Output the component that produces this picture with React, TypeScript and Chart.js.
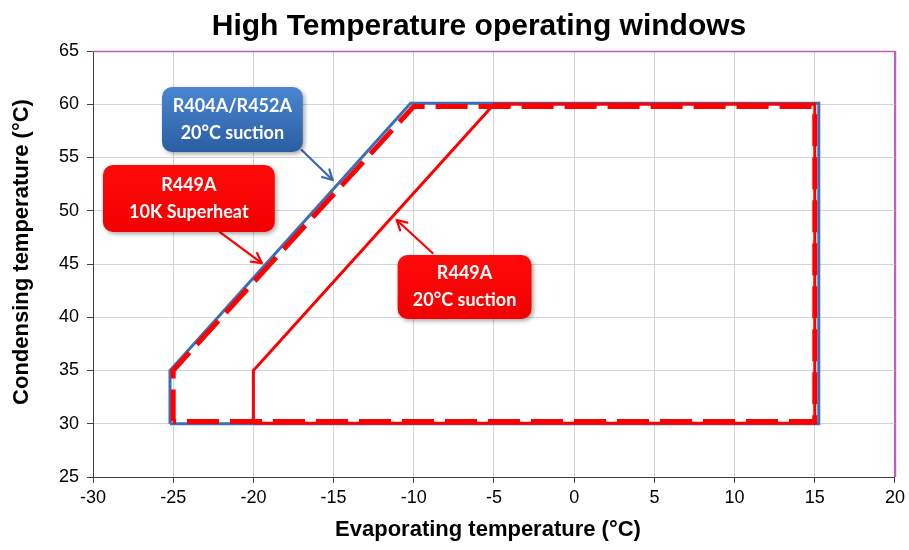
import React, { useEffect, useRef } from 'react';
import { Chart, registerables } from 'chart.js';

Chart.register(...registerables);

// ---- Data ----
const chartTitle = 'High Temperature operating windows';
const xAxisTitle = 'Evaporating temperature (°C)';
const yAxisTitle = 'Condensing temperature (°C)';

const xTicks = [-30, -25, -20, -15, -10, -5, 0, 5, 10, 15, 20];
const yTicks = [25, 30, 35, 40, 45, 50, 55, 60, 65];

// R404A/R452A 20°C suction (blue outline)
const blueX = [-25.2, -25.2, -10.2, 15.25, 15.25, -25.2];
const blueY = [30.0, 35, 60.1, 60.1, 30.0, 30.0];

// R449A 20°C suction (thin red outline)
const redThinX = [-20, -20, -5, 15, 15, -20];
const redThinY = [30.05, 35, 60, 60, 30.05, 30.05];

// R449A 10K superheat (thick red dashed outline)
const redDashX = [-25, -25, -10, 15, 15, -25];
const redDashY = [30.22, 35, 59.8, 59.8, 30.22, 30.22];

// Callout labels
const blueLabel = ['R404A/R452A', '20°C suction'];
const red10kLabel = ['R449A', '10K Superheat'];
const red20Label = ['R449A', '20°C suction'];

const toPoints = (xs: number[], ys: number[]) => xs.map((x, i) => ({ x, y: ys[i] }));

// ---- Styles ----
const PURPLE = '#c05cc0';
const GRID = '#d4d4d4';
const AXIS = '#404040';
const BLUE = '#3a6fb8';
const RED = '#ff0000';
const FONT = "'Liberation Sans', Arial, sans-serif";
const BOX_FONT = "Lato, 'Open Sans', sans-serif";

type Callout = {
  lines: string[];
  box: [number, number, number, number]; // xLeft, yTop, xRight, yBottom (data units)
  arrow: [number, number, number, number]; // from x,y -> to x,y (data units)
  kind: 'blue' | 'red';
};

const callouts: Callout[] = [
  { lines: blueLabel, box: [-25.7, 61.62, -16.92, 55.52], arrow: [-16.99, 55.7, -15.06, 52.89], kind: 'blue' },
  { lines: red10kLabel, box: [-29.38, 54.3, -18.67, 48.0], arrow: [-22.09, 48.0, -19.48, 45.09], kind: 'red' },
  { lines: red20Label, box: [-11.01, 45.85, -2.66, 39.84], arrow: [-8.83, 46.03, -11.07, 49.13], kind: 'red' },
];

function roundRectPath(ctx: CanvasRenderingContext2D, x: number, y: number, w: number, h: number, r: number) {
  ctx.beginPath();
  ctx.moveTo(x + r, y);
  ctx.arcTo(x + w, y, x + w, y + h, r);
  ctx.arcTo(x + w, y + h, x, y + h, r);
  ctx.arcTo(x, y + h, x, y, r);
  ctx.arcTo(x, y, x + w, y, r);
  ctx.closePath();
}

const decorPlugin = {
  id: 'decor',
  beforeDatasetsDraw(chart: any) {
    const ctx: CanvasRenderingContext2D = chart.ctx;
    const a = chart.chartArea;
    ctx.save();
    ctx.strokeStyle = PURPLE;
    ctx.lineWidth = 1.5;
    ctx.beginPath();
    ctx.moveTo(a.left, a.top + 0.5);
    ctx.lineTo(a.right + 0.5, a.top + 0.5);
    ctx.lineTo(a.right + 0.5, a.bottom);
    ctx.stroke();
    ctx.restore();
  },
  afterDatasetsDraw(chart: any) {
    const ctx: CanvasRenderingContext2D = chart.ctx;
    const xs = chart.scales.x;
    const ys = chart.scales.y;
    const px = (v: number) => xs.getPixelForValue(v);
    const py = (v: number) => ys.getPixelForValue(v);

    callouts.forEach((c) => {
      const color = c.kind === 'blue' ? '#3868ab' : RED;
      // arrow
      const x1 = px(c.arrow[0]);
      const y1 = py(c.arrow[1]);
      const x2 = px(c.arrow[2]);
      const y2 = py(c.arrow[3]);
      ctx.save();
      ctx.strokeStyle = color;
      ctx.lineWidth = 2.2;
      ctx.lineCap = 'round';
      ctx.lineJoin = 'round';
      ctx.beginPath();
      ctx.moveTo(x1, y1);
      ctx.lineTo(x2, y2);
      ctx.stroke();
      const ang = Math.atan2(y2 - y1, x2 - x1);
      const hl = 11;
      const spread = 0.5;
      ctx.beginPath();
      ctx.moveTo(x2 - hl * Math.cos(ang - spread), y2 - hl * Math.sin(ang - spread));
      ctx.lineTo(x2, y2);
      ctx.lineTo(x2 - hl * Math.cos(ang + spread), y2 - hl * Math.sin(ang + spread));
      ctx.stroke();
      ctx.restore();

      // box
      const bx = px(c.box[0]);
      const by = py(c.box[1]);
      const bw = px(c.box[2]) - bx;
      const bh = py(c.box[3]) - by;
      ctx.save();
      ctx.shadowColor = 'rgba(0,0,0,0.35)';
      ctx.shadowBlur = 4;
      ctx.shadowOffsetX = 2;
      ctx.shadowOffsetY = 2;
      const g = ctx.createLinearGradient(0, by, 0, by + bh);
      if (c.kind === 'blue') {
        g.addColorStop(0, '#4a86d2');
        g.addColorStop(1, '#2b5ea2');
      } else {
        g.addColorStop(0, '#ff0a0a');
        g.addColorStop(1, '#f20000');
      }
      ctx.fillStyle = g;
      roundRectPath(ctx, bx, by, bw, bh, 10);
      ctx.fill();
      ctx.restore();

      // text
      ctx.save();
      ctx.fillStyle = '#ffffff';
      ctx.font = `bold 18px ${BOX_FONT}`;
      ctx.textAlign = 'center';
      ctx.textBaseline = 'middle';
      const cx = bx + bw / 2;
      const cy = by + bh / 2;
      const lh = 27;
      c.lines.forEach((t, i) => {
        ctx.fillText(t, cx, cy + (i - (c.lines.length - 1) / 2) * lh);
      });
      ctx.restore();
    });
  },
  afterDraw(chart: any) {
    const ctx: CanvasRenderingContext2D = chart.ctx;
    const area = chart.chartArea;
    ctx.save();
    ctx.fillStyle = '#000';
    ctx.textAlign = 'center';
    ctx.textBaseline = 'middle';
    ctx.font = `bold 30px ${FONT}`;
    ctx.fillText(chartTitle, 479, 27);
    ctx.font = `bold 22px ${FONT}`;
    ctx.fillText(xAxisTitle, (area.left + area.right) / 2 - 6, 530);
    ctx.translate(22, (area.top + area.bottom) / 2 - 12);
    ctx.rotate(-Math.PI / 2);
    ctx.fillText(yAxisTitle, 0, 0);
    ctx.restore();
  },
};

export default function App() {
  const canvasRef = useRef<HTMLCanvasElement | null>(null);

  useEffect(() => {
    if (!canvasRef.current) return;
    const tickFont = { family: FONT, size: 18 };
    const chart = new Chart(canvasRef.current, {
      type: 'scatter',
      data: {
        datasets: [
          {
            label: 'R404A/R452A 20°C suction',
            data: toPoints(blueX, blueY),
            showLine: true,
            borderColor: BLUE,
            borderWidth: 3,
            pointRadius: 0,
            fill: false,
            borderJoinStyle: 'miter',
            order: 3,
          },
          {
            label: 'R449A 20°C suction',
            data: toPoints(redThinX, redThinY),
            showLine: true,
            borderColor: RED,
            borderWidth: 3,
            pointRadius: 0,
            fill: false,
            borderJoinStyle: 'miter',
            order: 2,
          },
          {
            label: 'R449A 10K Superheat',
            data: toPoints(redDashX, redDashY),
            showLine: true,
            borderColor: RED,
            borderWidth: 5,
            borderDash: [32, 11],
            pointRadius: 0,
            fill: false,
            borderJoinStyle: 'miter',
            order: 1,
          },
        ],
      },
      options: {
        responsive: false,
        animation: false,
        devicePixelRatio: 1,
        layout: { padding: { top: 51, right: 13, left: 0, bottom: 0 } },
        plugins: {
          legend: { display: false },
          title: { display: false },
          tooltip: { enabled: false },
        },
        scales: {
          x: {
            type: 'linear',
            min: xTicks[0],
            max: xTicks[xTicks.length - 1],
            afterBuildTicks: (s: any) => {
              s.ticks = xTicks.map((v) => ({ value: v }));
            },
            afterFit: (s: any) => {
              s.height = 73;
            },
            ticks: { font: tickFont, color: '#000', padding: 4, maxRotation: 0, autoSkip: false },
            grid: {
              color: (c: any) => (c.tick && c.tick.value === xTicks[xTicks.length - 1] ? PURPLE : GRID),
              tickColor: AXIS,
              tickLength: 6,
              lineWidth: 1,
            },
            border: { color: AXIS, width: 1 },
          },
          y: {
            type: 'linear',
            min: yTicks[0],
            max: yTicks[yTicks.length - 1],
            afterBuildTicks: (s: any) => {
              s.ticks = yTicks.map((v) => ({ value: v }));
            },
            afterFit: (s: any) => {
              s.width = 93;
            },
            ticks: { font: tickFont, color: '#000', padding: 8, autoSkip: false },
            grid: {
              color: (c: any) => (c.tick && c.tick.value === yTicks[yTicks.length - 1] ? PURPLE : GRID),
              tickColor: AXIS,
              tickLength: 6,
              lineWidth: 1,
            },
            border: { color: AXIS, width: 1 },
          },
        },
      },
      plugins: [decorPlugin],
    } as any);
    return () => chart.destroy();
  }, []);

  return (
    <div style={{ position: 'fixed', left: 0, top: 0, width: 909, height: 550, background: '#fff' }}>
      <canvas ref={canvasRef} width={909} height={550} style={{ display: 'block' }} />
    </div>
  );
}
